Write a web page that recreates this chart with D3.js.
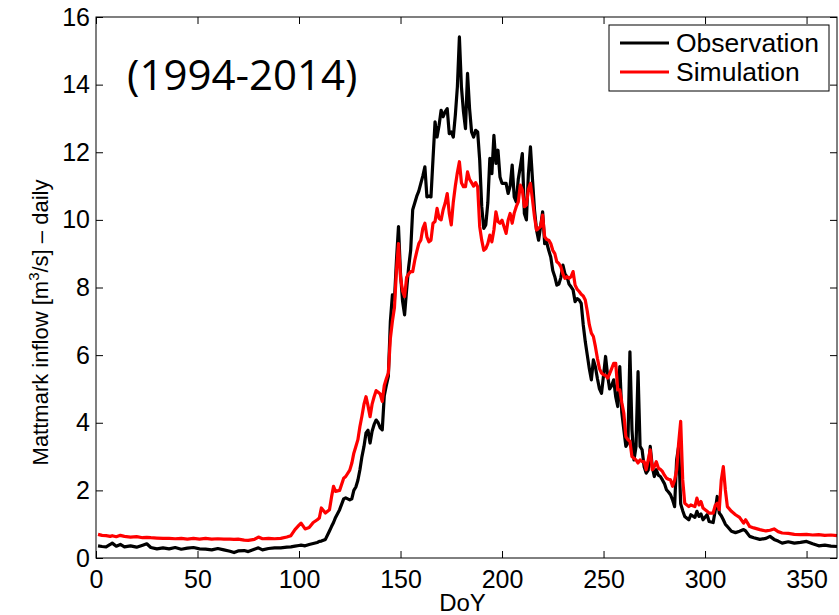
<!DOCTYPE html>
<html>
<head>
<meta charset="utf-8">
<script src="https://cdn.jsdelivr.net/npm/d3@7"></script>
<style>
    body { margin: 0; background: #fff; }
    text { font-family: "Liberation Sans", Arial, sans-serif; fill: #000; }
</style>
</head>
<body>
<script>
// day of year (m3/s)
let doy = [1, 3, 5, 7, 8, 10, 12, 14, 17, 20, 23, 25, 27, 30, 33, 36, 39, 42, 45, 48, 51, 54, 57, 60, 63, 66, 68, 70, 73, 75, 78, 80, 82, 85, 88, 91, 94, 96, 98, 100,
    101, 103, 105, 107, 109, 110, 111, 113, 115, 116, 117, 118, 120, 122, 123, 125, 126, 127, 128, 129, 130, 131, 132, 133, 134, 135, 136, 137, 138, 139, 140,
    141, 142, 143, 144, 145, 146, 147, 148, 149, 150, 151, 152, 153, 154, 155, 156, 157, 158, 159, 160, 161, 162, 163, 164, 165, 166, 167, 168, 169, 170,
    171, 172, 173, 174, 175, 176, 177, 178, 179, 180, 181, 182, 183, 184, 185, 186, 187, 188, 189, 190, 191, 192, 193, 194, 195, 196, 197, 198, 199, 200,
    202, 203, 204, 205, 206, 207, 208, 209, 210, 211, 212, 213, 214, 215, 216, 217, 218, 219, 220, 221, 222, 223, 224, 225, 226, 227, 228, 229, 230,
    231, 232, 233, 234, 235, 236, 237, 238, 239, 240, 241, 242, 243, 244, 245, 246, 247, 248, 249, 250, 251, 252, 253, 254, 255, 256, 257, 258, 259, 260,
    261, 262, 263, 264, 265, 266, 267, 268, 269, 270, 271, 272, 273, 274, 275, 276, 277, 278, 279, 280, 281, 282, 283, 284, 285, 286, 287, 288, 289, 290,
    292, 293, 295, 296, 297, 298, 299, 301, 302, 304, 305, 306, 307, 308, 309, 310, 311, 313, 315, 317, 319, 320, 322, 324, 327, 330, 332, 334, 336, 338,
    341, 344, 347, 350, 353, 356, 359, 362, 365];

let observation = [0.36, 0.34, 0.33, 0.40, 0.44, 0.35, 0.40, 0.33, 0.36, 0.32, 0.38, 0.42, 0.31, 0.27, 0.30, 0.27, 0.31, 0.26, 0.29, 0.31, 0.27, 0.26, 0.24, 0.28, 0.24, 0.20, 0.16, 0.21, 0.22, 0.19, 0.26, 0.30, 0.24, 0.28, 0.30, 0.30, 0.32, 0.33, 0.35, 0.37,
    0.38, 0.36, 0.40, 0.43, 0.46, 0.49, 0.50, 0.55, 0.80, 0.93, 1.05, 1.20, 1.43, 1.75, 1.78, 1.72, 1.75, 2.00, 2.10, 2.30, 2.61, 3.00, 3.30, 3.70, 3.78, 3.40, 3.75, 3.95, 4.08, 4.00, 3.85,
    3.79, 4.80, 5.10, 5.37, 7.00, 7.78, 7.63, 8.80, 9.80, 8.40, 7.60, 7.19, 7.93, 8.60, 9.10, 10.30, 10.50, 10.70, 10.85, 11.08, 11.30, 11.57, 10.68, 10.70, 10.68, 11.80, 12.90, 12.45, 12.80, 13.24,
    13.05, 13.20, 13.29, 12.55, 12.60, 12.45, 13.10, 13.93, 15.41, 13.93, 13.20, 12.70, 14.33, 13.30, 12.60, 12.45, 12.65, 12.60, 11.77, 10.39, 9.75, 9.85, 10.50, 11.82, 11.37, 12.50, 11.67, 12.06, 11.27, 11.08,
    11.08, 10.78, 11.00, 11.62, 10.68, 10.53, 11.20, 11.57, 11.96, 10.19, 10.00, 11.37, 12.16, 11.20, 10.29, 9.70, 9.40, 9.80, 10.24, 9.30, 9.33, 9.10, 8.90, 8.50, 8.32, 8.07, 8.10, 8.30, 8.66,
    8.40, 8.32, 8.10, 8.02, 7.93, 7.58, 7.67, 7.63, 7.53, 6.90, 6.40, 6.00, 5.60, 5.27, 5.86, 5.65, 5.30, 5.00, 4.87, 5.40, 5.96, 5.40, 5.00, 5.10, 5.27, 4.77, 4.48, 5.66, 4.30, 3.79,
    3.30, 3.40, 6.10, 3.80, 2.90, 3.30, 5.51, 3.30, 3.20, 2.70, 2.51, 2.60, 3.30, 2.70, 2.41, 2.61, 2.45, 2.41, 2.31, 2.20, 2.02, 1.95, 1.87, 1.72, 1.52, 2.90, 3.30, 1.60, 1.40, 1.23,
    1.13, 1.28, 1.20, 1.38, 1.23, 1.30, 1.13, 1.28, 1.08, 1.05, 1.40, 1.82, 1.33, 1.25, 1.13, 1.00, 0.93, 0.79, 0.75, 0.79, 0.84, 0.80, 0.64, 0.60, 0.55, 0.58, 0.64, 0.55, 0.50, 0.44,
    0.48, 0.44, 0.46, 0.49, 0.42, 0.36, 0.38, 0.35, 0.34];

let simulation = [0.70, 0.67, 0.66, 0.64, 0.66, 0.63, 0.67, 0.64, 0.62, 0.63, 0.60, 0.61, 0.60, 0.59, 0.58, 0.58, 0.57, 0.58, 0.56, 0.58, 0.56, 0.58, 0.56, 0.57, 0.56, 0.56, 0.55, 0.56, 0.53, 0.52, 0.55, 0.62, 0.57, 0.58, 0.57, 0.58, 0.62, 0.66, 0.84, 0.97,
    1.03, 0.86, 0.90, 1.05, 1.13, 1.18, 1.48, 1.33, 1.43, 1.80, 2.12, 1.97, 2.00, 2.36, 2.41, 2.60, 2.80, 3.10, 3.30, 3.50, 3.89, 4.20, 4.55, 4.77, 4.50, 4.18, 4.55, 4.77, 4.95, 4.90, 4.85,
    4.63, 5.10, 5.30, 5.47, 6.50, 7.00, 7.40, 8.50, 9.30, 8.30, 7.90, 7.73, 8.30, 8.40, 8.47, 8.47, 8.80, 9.06, 9.30, 9.40, 9.75, 9.90, 9.50, 9.35, 9.40, 9.90, 9.95, 10.34, 10.04, 10.00,
    10.30, 10.50, 10.78, 10.20, 9.85, 10.53, 11.00, 11.40, 11.72, 11.10, 10.98, 10.98, 11.42, 11.20, 11.10, 11.00, 11.10, 10.98, 9.80, 9.40, 9.10, 9.15, 9.30, 9.55, 9.35, 9.70, 10.24, 9.95, 9.90, 9.99,
    9.60, 9.99, 10.19, 9.90, 10.20, 10.39, 10.53, 11.03, 10.88, 10.39, 10.44, 10.90, 11.08, 10.60, 10.09, 9.70, 9.75, 9.80, 10.14, 9.50, 9.42, 9.40, 9.30, 9.10, 9.00, 8.76, 8.71, 8.61, 8.40,
    8.27, 8.32, 8.27, 8.32, 8.47, 8.07, 7.95, 7.88, 7.80, 7.75, 7.63, 7.30, 6.90, 6.65, 6.55, 6.25, 5.90, 5.60, 5.47, 5.42, 5.40, 5.32, 5.45, 5.60, 5.76, 5.76, 4.97, 4.97, 4.60, 4.28,
    3.59, 3.50, 3.45, 3.00, 2.95, 2.90, 2.81, 2.90, 2.85, 2.85, 2.61, 2.90, 3.20, 2.61, 2.70, 2.85, 2.66, 2.62, 2.56, 2.45, 2.36, 2.33, 2.31, 2.12, 2.30, 2.60, 3.40, 4.04, 2.31, 1.62,
    1.52, 1.57, 1.52, 1.77, 1.57, 1.67, 1.48, 1.38, 1.33, 1.33, 1.55, 1.62, 1.43, 2.31, 2.70, 2.02, 1.52, 1.38, 1.28, 1.20, 1.03, 1.13, 0.93, 0.89, 0.84, 0.80, 0.82, 0.86, 0.78, 0.74,
    0.73, 0.70, 0.69, 0.70, 0.68, 0.69, 0.67, 0.68, 0.66];

let xTicks = [0, 50, 100, 150, 200, 250, 300, 350];
let yTicks = [0, 2, 4, 6, 8, 10, 12, 14, 16];
let seriesNames = ["Observation", "Simulation"];
let seriesColors = ["#000000", "#ff0000"];

function run() {
    let W = 839, H = 615;
    let left = 96, right = 837, top = 17, bottom = 558;

    let svg = d3.select("body").append("svg")
        .attr("width", W)
        .attr("height", H);

    let x = d3.scaleLinear().domain([0, 365]).range([left, right]);
    let y = d3.scaleLinear().domain([0, 16]).range([bottom, top]);

    // lines, red goes on top
    let line = d3.line()
        .x((d, i) => x(doy[i]))
        .y(d => y(d));
    [observation, simulation].forEach((vals, k) => {
        svg.append("path")
            .datum(vals)
            .attr("d", line)
            .attr("fill", "none")
            .attr("stroke", seriesColors[k])
            .attr("stroke-width", 3.2)
            .attr("stroke-linejoin", "round");
    });

    // axes with inward ticks on all sides (matlab box)
    let tk = 7;
    svg.append("g").attr("transform", `translate(0,${bottom})`)
        .call(d3.axisBottom(x).tickValues(xTicks).tickSizeInner(-tk).tickSizeOuter(0).tickPadding(12))
        .call(g => g.select(".domain").remove())
        .call(g => g.selectAll("text").attr("font-size", 25).attr("font-family", "Liberation Sans"));
    svg.append("g").attr("transform", `translate(0,${top})`)
        .call(d3.axisTop(x).tickValues(xTicks).tickSizeInner(-tk).tickSizeOuter(0).tickFormat(""))
        .call(g => g.select(".domain").remove());
    svg.append("g").attr("transform", `translate(${left},0)`)
        .call(d3.axisLeft(y).tickValues(yTicks).tickSizeInner(-tk).tickSizeOuter(0).tickPadding(6))
        .call(g => g.select(".domain").remove())
        .call(g => g.selectAll("text").attr("font-size", 25).attr("font-family", "Liberation Sans"));
    svg.append("g").attr("transform", `translate(${right},0)`)
        .call(d3.axisRight(y).tickValues(yTicks).tickSizeInner(-tk).tickSizeOuter(0).tickFormat(""))
        .call(g => g.select(".domain").remove());

    svg.append("rect")
        .attr("x", left).attr("y", top)
        .attr("width", right - left).attr("height", bottom - top)
        .attr("fill", "none").attr("stroke", "#000").attr("stroke-width", 1);

    // axis labels
    svg.append("text")
        .attr("x", (left + right) / 2 - 4).attr("y", 611)
        .attr("text-anchor", "middle")
        .attr("font-size", 24)
        .text("DoY");

    let yl = svg.append("text")
        .attr("transform", `translate(48,${(top + bottom) / 2 + 35}) rotate(-90)`)
        .attr("text-anchor", "middle")
        .attr("font-size", 22);
    yl.append("tspan").text("Mattmark inflow [m");
    yl.append("tspan").attr("font-size", 15).attr("dy", -9).text("3");
    yl.append("tspan").attr("dy", 9).text("/s] \u2013 daily");

    // period label
    svg.append("text")
        .attr("x", 127).attr("y", 90)
        .attr("font-size", 42)
        .style("font-family", "'Open Sans'")
        .text("(1994-2014)");

    // legend
    let lg = svg.append("g");
    lg.append("rect")
        .attr("x", 609).attr("y", 25)
        .attr("width", 220).attr("height", 66)
        .attr("fill", "#fff").attr("stroke", "#000").attr("stroke-width", 1);
    seriesNames.forEach((name, k) => {
        let ly = 43 + k * 29;
        lg.append("line")
            .attr("x1", 620).attr("x2", 669)
            .attr("y1", ly).attr("y2", ly)
            .attr("stroke", seriesColors[k]).attr("stroke-width", 3);
        lg.append("text")
            .attr("x", 676).attr("y", ly + 9)
            .attr("font-size", 26.5)
            .text(name);
    });
}
window.onload = run;
</script>
</body>
</html>
